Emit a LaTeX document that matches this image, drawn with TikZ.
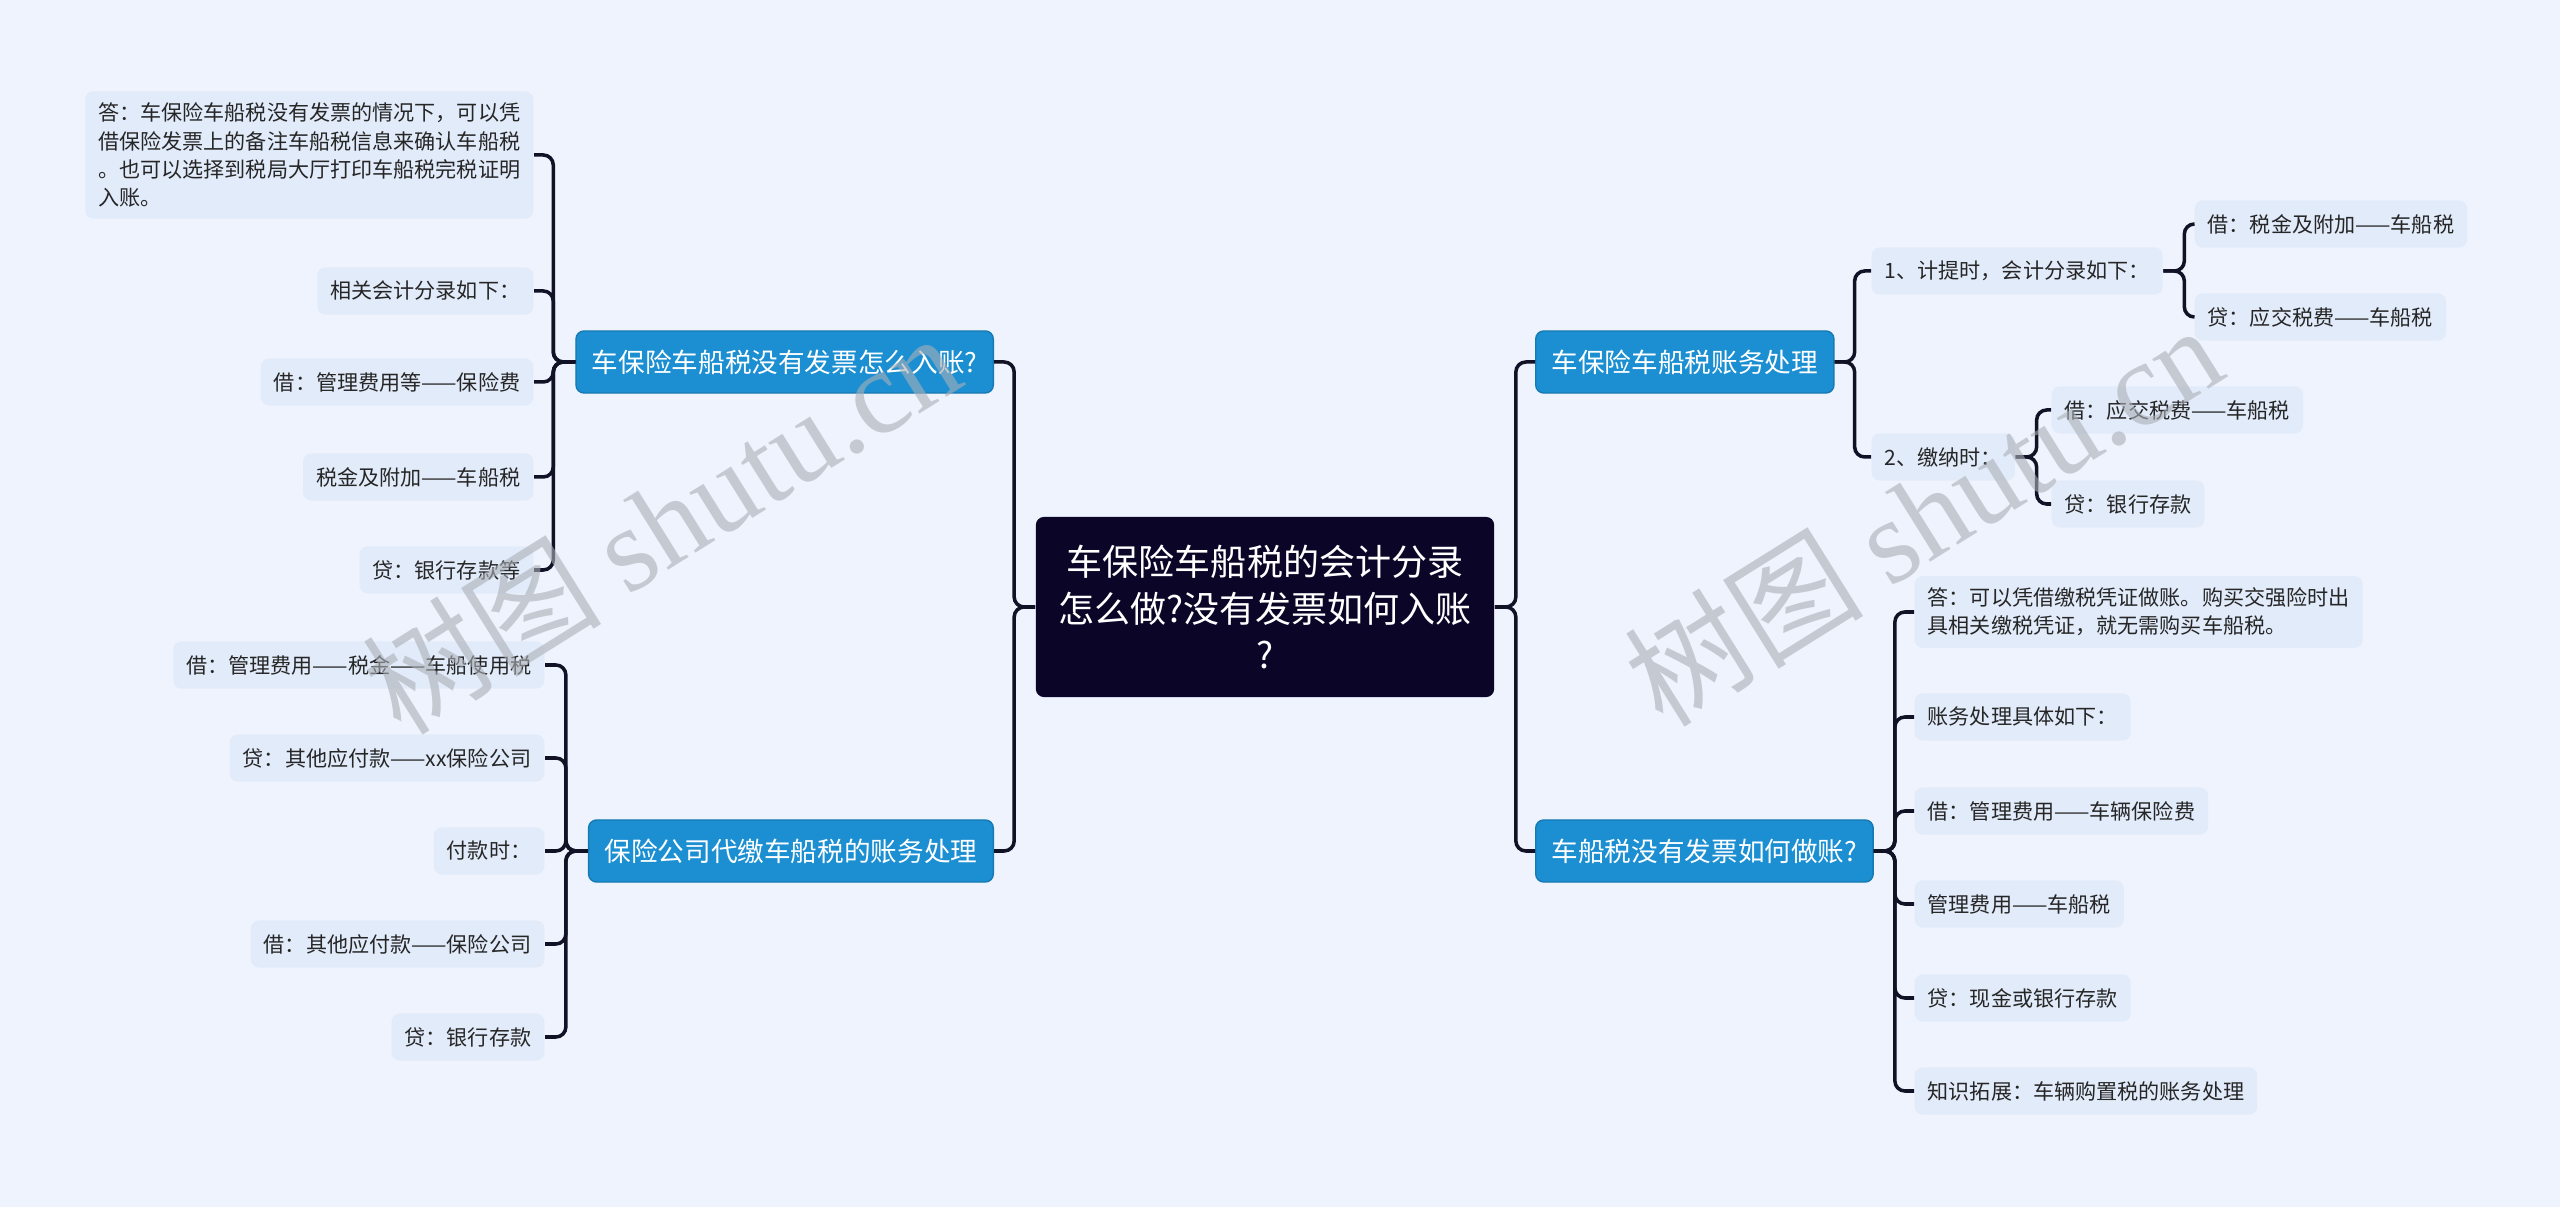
\documentclass[tikz,border=0pt]{standalone}
\usepackage{fontspec}
\setmainfont{Noto Sans CJK SC}
\newfontfamily\wmfont{Liberation Serif}
\definecolor{bgblue}{RGB}{238,243,254}
\definecolor{leafblue}{RGB}{226,235,250}
\definecolor{mainblue}{RGB}{27,143,210}
\definecolor{rootnavy}{RGB}{11,6,40}
\definecolor{linedark}{RGB}{18,18,38}
\definecolor{wmgray}{RGB}{170,175,182}

\begin{document}
\begin{tikzpicture}[x=0.01cm, y=-0.01cm,
	root/.style={fill=rootnavy, text=white, rounded corners=0.08cm, align=center,
		font=\fontsize{10.24}{13.1}\selectfont, minimum width=4.58cm, minimum height=1.8cm},
	branch/.style={fill=mainblue, draw=mainblue!85!black, line width=0.4pt, text=white,
		rounded corners=0.08cm, font=\fontsize{7.57}{9}\selectfont, inner xsep=0.16cm, minimum height=0.62cm},
	leaf/.style={fill=leafblue, text=black!85, rounded corners=0.08cm, align=left,
		font=\fontsize{6}{7.97}\selectfont, inner xsep=0.13cm, minimum height=0.47cm},
	link/.style={draw=linedark, line width=1pt, rounded corners=0.1cm},
	wmark/.style={text=wmgray, text opacity=0.6, rotate=32, font=\fontsize{34}{34}\selectfont}]
	%\draw [help lines] (0,0) grid (2560,1207);
	\fill [bgblue] (0,0) rectangle (2560,1207);
	\useasboundingbox (0,0) rectangle (2560,1207);

	\node [root] (root) at (1265,607) {车保险车船税的会计分录\\怎么做?没有发票如何入账\\?};

	\node [branch, anchor=east] (nA) at (994,362) {车保险车船税没有发票怎么入账?};
	\node [branch, anchor=east] (nB) at (994,851) {保险公司代缴车船税的账务处理};
	\node [branch, anchor=west] (nC) at (1535,362) {车保险车船税账务处理};
	\node [branch, anchor=west] (nD) at (1535,851) {车船税没有发票如何做账?};

	% left, top
	\node [leaf, anchor=east] (a1) at (534,155) {答：车保险车船税没有发票的情况下，可以凭\\借保险发票上的备注车船税信息来确认车船税\\。也可以选择到税局大厅打印车船税完税证明\\入账。};
	\node [leaf, anchor=east] (a2) at (534,291) {相关会计分录如下：};
	\node [leaf, anchor=east] (a3) at (534,382) {借：管理费用等——保险费};
	\node [leaf, anchor=east] (a4) at (534,477) {税金及附加——车船税};
	\node [leaf, anchor=east] (a5) at (534,570) {贷：银行存款等};

	% left, bottom
	\node [leaf, anchor=east] (b1) at (545,665) {借：管理费用——税金——车船使用税};
	\node [leaf, anchor=east] (b2) at (545,758) {贷：其他应付款——xx保险公司};
	\node [leaf, anchor=east] (b3) at (545,851) {付款时：};
	\node [leaf, anchor=east] (b4) at (545,944) {借：其他应付款——保险公司};
	\node [leaf, anchor=east] (b5) at (545,1037) {贷：银行存款};

	% right, top
	\node [leaf, anchor=west] (c1) at (1871,271) {1、计提时，会计分录如下：};
	\node [leaf, anchor=west] (c2) at (1871,457) {2、缴纳时：};
	\node [leaf, anchor=west] (c11) at (2194,224) {借：税金及附加——车船税};
	\node [leaf, anchor=west] (c12) at (2194,317) {贷：应交税费——车船税};
	\node [leaf, anchor=west] (c21) at (2051,410) {借：应交税费——车船税};
	\node [leaf, anchor=west] (c22) at (2051,504) {贷：银行存款};

	% right, bottom
	\node [leaf, anchor=west] (d1) at (1914,612) {答：可以凭借缴税凭证做账。购买交强险时出\\具相关缴税凭证，就无需购买车船税。};
	\node [leaf, anchor=west] (d2) at (1914,717) {账务处理具体如下：};
	\node [leaf, anchor=west] (d3) at (1914,811) {借：管理费用——车辆保险费};
	\node [leaf, anchor=west] (d4) at (1914,904) {管理费用——车船税};
	\node [leaf, anchor=west] (d5) at (1914,998) {贷：现金或银行存款};
	\node [leaf, anchor=west] (d6) at (1914,1091) {知识拓展：车辆购置税的账务处理};

	\draw [link] (root.west) -- ++(-21,0) |- (nA.east);
	\draw [link] (root.west) -- ++(-21,0) |- (nB.east);
	\draw [link] (root.east) -- ++(21,0) |- (nC.west);
	\draw [link] (root.east) -- ++(21,0) |- (nD.west);
	\foreach \k in {1,...,5} {
		\draw [link] (nA.west) -- ++(-22,0) |- (a\k.east);
		\draw [link] (nB.west) -- ++(-22,0) |- (b\k.east);
	}
	\foreach \k in {1,2} {
		\draw [link] (nC.east) -- ++(20,0) |- (c\k.west);
		\draw [link] (c1.east) -- ++(21,0) |- (c1\k.west);
		\draw [link] (c2.east) -- ++(21,0) |- (c2\k.west);
	}
	\foreach \k in {1,...,6}
		\draw [link] (nD.east) -- ++(21,0) |- (d\k.west);

	\node [wmark] (wm1) at (661,522) {树图 {\wmfont shutu.cn}};
	\node [wmark] (wm2) at (1923,514) {树图 {\wmfont shutu.cn}};
\end{tikzpicture}
\end{document}
